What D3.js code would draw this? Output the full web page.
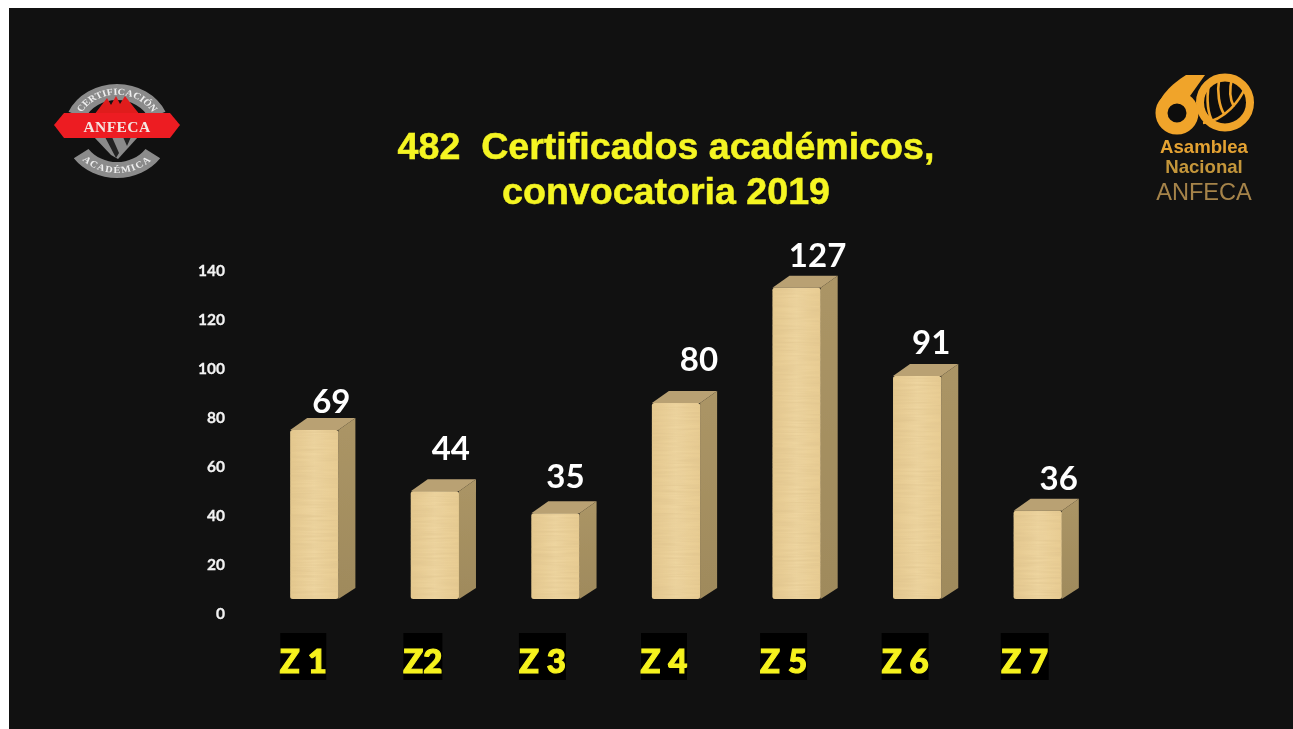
<!DOCTYPE html>
<html><head><meta charset="utf-8">
<script src="https://cdnjs.cloudflare.com/ajax/libs/d3/7.8.5/d3.min.js"></script>
<style>html,body{margin:0;padding:0;background:#fff;overflow:hidden}svg{display:block}</style>
</head><body><svg id="c" width="1293" height="729"></svg>
<script>
const categories = ["Z 1","Z2","Z 3","Z 4","Z 5","Z 6","Z 7"];
const values = [69,44,35,80,127,91,36];
const yTicks = [0,20,40,60,80,100,120,140];
const titleLines = ["482  Certificados académicos,","convocatoria 2019"];
// hand-placed label offsets in the source slide (px, from the bar's centre / back top edge)
const labelNudgeX = [17,16,10,23,21,14,21];
const labelNudgeY = [17,31,25,32,21,22,21];
const catNudgeX = [-11,-12,-13,-12,-13,-12,-13];
const tagWidths = [46,39,47,46,47,47,48];

const W=1293,H=729;
const svg=d3.select("#c");
const defs=svg.append("defs");
const soft=defs.append("filter").attr("id","soft").attr("x","-10%").attr("y","-10%").attr("width","120%").attr("height","120%");
soft.append("feGaussianBlur").attr("stdDeviation",0.6);
const logoSoft=defs.append("filter").attr("id","logoSoft");
logoSoft.append("feGaussianBlur").attr("stdDeviation",0.75);

// papyrus-like texture: fine horizontal streaks
const tex=defs.append("filter").attr("id","papyrus").attr("x","0").attr("y","0").attr("width","100%").attr("height","100%");
tex.append("feTurbulence").attr("type","fractalNoise").attr("baseFrequency","0.025 0.45").attr("numOctaves",2).attr("seed",4).attr("result","n");
tex.append("feColorMatrix").attr("in","n").attr("type","matrix")
  .attr("values","0 0 0 0 0.70  0 0 0 0 0.52  0 0 0 0 0.25  0.85 0 0 0 -0.27").attr("result","s");
tex.append("feComposite").attr("in","s").attr("in2","SourceGraphic").attr("operator","in").attr("result","c");
tex.append("feMerge").selectAll("feMergeNode").data(["SourceGraphic","c"]).join("feMergeNode").attr("in",d=>d);

const sideG=defs.append("linearGradient").attr("id","sideG").attr("x1",0).attr("x2",0).attr("y1",0).attr("y2",1);
sideG.append("stop").attr("offset",0).attr("stop-color","#ab9566");
sideG.append("stop").attr("offset",1).attr("stop-color","#9f8a5c");
const frontG=defs.append("linearGradient").attr("id","frontG").attr("x1",0).attr("x2",1).attr("y1",0).attr("y2",0);
frontG.append("stop").attr("offset",0).attr("stop-color","#e5c98f");
frontG.append("stop").attr("offset",0.5).attr("stop-color","#eed5a0");
frontG.append("stop").attr("offset",1).attr("stop-color","#e8cc92");

svg.append("rect").attr("x",9).attr("y",8).attr("width",W-9).attr("height",H-8).attr("fill","#111111");

// scales
const y=d3.scaleLinear().domain([0,140]).range([613,270]);
const x=d3.scaleBand().domain(categories).range([254,1098]).paddingInner(0.6).paddingOuter(0.3);
const floorShift=14, depthX=17, depthY=12;

// axis
const axis=d3.axisLeft(y).tickValues(yTicks).tickSize(0).tickPadding(0);
const gA=svg.append("g").attr("transform","translate(225,0)").call(axis);
gA.select(".domain").remove();
gA.selectAll("text").attr("fill","#f2f2f2").attr("stroke","#f2f2f2").attr("stroke-width",0.3).attr("font-family","Lato, 'Open Sans', sans-serif").attr("font-weight",700).attr("font-size",15.5).attr("dy","0.34em").attr("filter","url(#soft)");

// bars
const bars=svg.append("g").selectAll("g").data(values).join("g");
const L=(d,i)=>x(categories[i]), R=(d,i)=>x(categories[i])+x.bandwidth();
const T=d=>y(d)-floorShift, B=y(0)-floorShift;
bars.append("path").attr("fill","#b9a173").attr("filter","url(#soft)")
  .attr("d",(d,i)=>`M${L(d,i)},${T(d)}L${L(d,i)+depthX},${T(d)-depthY}H${R(d,i)+depthX}L${R(d,i)},${T(d)}Z`);
bars.append("path").attr("fill","url(#sideG)").attr("filter","url(#soft)")
  .attr("d",(d,i)=>`M${R(d,i)},${T(d)}L${R(d,i)+depthX},${T(d)-depthY}V${B-11}L${R(d,i)},${B}Z`);
bars.append("rect").attr("x",L).attr("y",T).attr("width",x.bandwidth()).attr("height",d=>B-T(d))
  .attr("rx",2.5).attr("fill","url(#frontG)").attr("filter","url(#papyrus)");

// value labels
svg.append("g").selectAll("text").data(values).join("text")
  .attr("x",(d,i)=>x(categories[i])+x.bandwidth()/2+labelNudgeX[i])
  .attr("y",(d,i)=>T(d)-depthY-labelNudgeY[i])
  .attr("dy","0.36em").attr("text-anchor","middle")
  .attr("fill","#fff").attr("font-family","Lato, sans-serif").attr("font-weight",700).attr("font-size",33)
  .attr("filter","url(#soft)").text(d=>d);

// category labels on black tags
const cg=svg.append("g").selectAll("g").data(categories).join("g")
  .attr("transform",(d,i)=>`translate(${x(d)+x.bandwidth()/2+catNudgeX[i]},661)`);
cg.append("rect").attr("x",(d,i)=>-tagWidths[i]/2).attr("y",-28).attr("width",(d,i)=>tagWidths[i]).attr("height",47).attr("fill","#000");
cg.append("text").attr("text-anchor","middle").attr("dy","0.36em")
  .attr("fill","#f6f21e").attr("stroke","#f6f21e").attr("stroke-width",1.1).attr("font-family","Lato, sans-serif").attr("font-weight",900).attr("font-size",33)
  .attr("filter","url(#soft)").text(d=>d);

// title
svg.append("g").selectAll("text").data(titleLines).join("text")
  .attr("x",666).attr("y",(d,i)=>158.5+i*45.5).attr("text-anchor","middle")
  .style("white-space","pre")
  .attr("fill","#f5f523").attr("stroke","#f5f523").attr("stroke-width",0.5).attr("font-family","'Liberation Sans', Arial, sans-serif").attr("font-weight",700).attr("font-size",37.6)
  .attr("filter","url(#soft)").text(d=>d);

// ANFECA certification logo
const lg=svg.append("g").attr("transform","translate(117,131)").attr("filter","url(#logoSoft)");
const ring=lg.append("g").attr("transform","scale(1.13,1)");
const arc=d3.arc();
ring.append("path").attr("fill","#8b8b8b").attr("d",arc({innerRadius:31,outerRadius:47,startAngle:-1.15,endAngle:1.15}));
ring.append("path").attr("fill","#8b8b8b").attr("d",arc({innerRadius:31,outerRadius:47,startAngle:Math.PI-0.95,endAngle:Math.PI+0.95}));
lg.append("path").attr("fill","#e01b1f").attr("d","M-23,-16L-10,-33L-6,-26L-1,-35L3,-27L8,-35L23,-16Z");
lg.append("path").attr("fill","#8a8a8a").attr("d","M-23,6H21L1,28L-6,24Z");
lg.append("path").attr("fill","#222").attr("d","M-12,6L-1,27L2,22L-5,6ZM6,6L10,15L14,6Z");
defs.append("path").attr("id","arcTop").attr("d","M-33,14A36,36 0 1 1 33,14");
defs.append("path").attr("id","arcBot").attr("d","M-41,-14A43,43 0 1 0 41,-14");
ring.append("text").attr("fill","#eee").attr("font-family","'Liberation Serif',serif").attr("font-weight",700).attr("font-size",9.2)
  .append("textPath").attr("href","#arcTop").attr("startOffset","50%").attr("text-anchor","middle").text("CERTIFICACIÓN");
ring.append("text").attr("fill","#eee").attr("font-family","'Liberation Serif',serif").attr("font-weight",700).attr("font-size",9.2).attr("letter-spacing",1.2)
  .append("textPath").attr("href","#arcBot").attr("startOffset","50%").attr("text-anchor","middle").text("ACADÉMICA");
lg.append("path").attr("fill","#ed1c22").attr("d","M-63,-6L-53,-18H53L63,-6L53,7H-53Z");
lg.append("text").attr("y",-4).attr("dy","0.32em").attr("text-anchor","middle").attr("fill","#f4e4e0").attr("font-family","'Liberation Serif',serif").attr("font-weight",700).attr("font-size",15.5).attr("letter-spacing",0.4).text("ANFECA");

// 60 anniversary logo
const sg=svg.append("g").attr("transform","translate(1204,0)").attr("filter","url(#logoSoft)");
const orange="#f0a42c";
sg.append("path").attr("fill",orange)
  .attr("d","M-47,113C-47,97 -32,84 -18,75H1L-14,96L-40,115Z");
sg.append("circle").attr("cx",-27).attr("cy",113).attr("r",15.5).attr("fill","#111").attr("stroke",orange).attr("stroke-width",12);
sg.append("circle").attr("cx",21).attr("cy",102.5).attr("r",25).attr("fill","#111").attr("stroke",orange).attr("stroke-width",8);
sg.append("path").attr("fill","none").attr("stroke",orange).attr("stroke-width",2.6).attr("d","M-1,123C22,120 36,100 42,86M5,84C2,100 4,115 9,122M15,80C13,92 15,106 20,114M28,78C25,90 26,100 30,107");
[["Asamblea",153,700,18.6,"#e4a233"],["Nacional",173,700,18.6,"#c4963a"],["ANFECA",200,400,23.6,"#a5834a"]].forEach(r=>{
  sg.append("text").attr("x",0).attr("y",r[1]).attr("text-anchor","middle").attr("fill",r[4]).attr("font-family","'Liberation Sans',sans-serif").attr("font-weight",r[2]).attr("font-size",r[3]).text(r[0]);
});
</script></body></html>
